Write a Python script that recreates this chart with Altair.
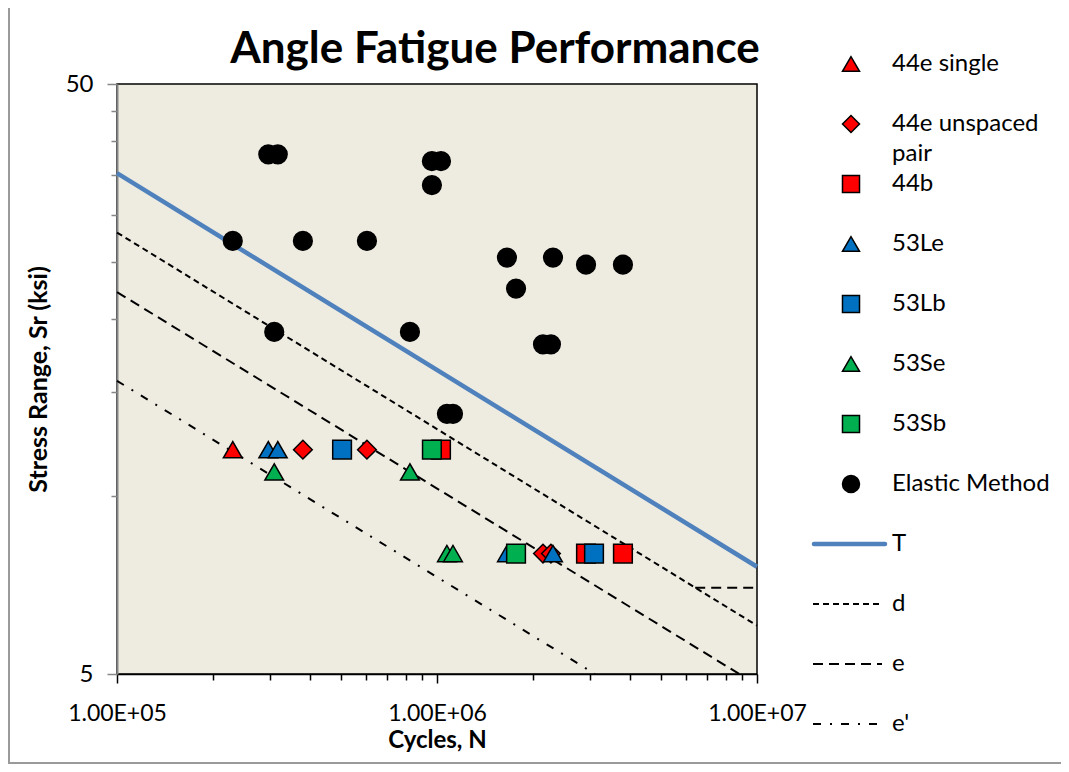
import altair as alt
import pandas as pd

# ---------------- data ----------------
chart_title = "Angle Fatigue Performance"
series_names = ["44e single", "44e unspaced pair", "44b", "53Le", "53Lb",
                "53Se", "53Sb", "Elastic Method"]

s44e_single_N = [230000]
s44e_single_S = [12]
s44e_pair_N = [381000, 604000, 2144000, 2270000]
s44e_pair_S = [12, 12, 8, 8]
s44b_N = [1029000, 2922000, 3811000]
s44b_S = [12, 8, 8]
s53Le_N = [297000, 318000, 1654000, 2304000]
s53Le_S = [12, 12, 8, 8]
s53Lb_N = [505000, 3095000]
s53Lb_S = [12, 8]
s53Se_N = [310000, 823000, 1074000, 1122000]
s53Se_S = [11, 11, 8, 8]
s53Sb_N = [964000, 1766000]
s53Sb_S = [12, 8]
elastic_N = [297000, 318000, 964000, 1029000, 964000, 230000, 381000, 604000,
             1654000, 2304000, 2922000, 3811000, 1766000, 310000, 823000,
             2144000, 2270000, 1074000, 1122000]
elastic_S = [38.0, 38.0, 37.0, 37.0, 33.7, 27.1, 27.1, 27.1,
             25.4, 25.4, 24.7, 24.7, 22.5, 19.0, 19.0,
             18.1, 18.1, 13.8, 13.8]

line_names = ["T", "d", "e", "e'"]
T_N = [1e5, 1e7]
T_S = [35.3, 7.6]
d_N = [1e5, 1e7]
d_S = [28.0, 6.04]
e_N = [1e5, 8.8e6]
e_S = [22.2, 5.0]
ep_N = [1e5, 3.12e6]
ep_S = [15.7, 5.0]
thr_N = [6.41e6, 1e7]
thr_S = [7.0, 7.0]

x_ticks = [100000, 200000, 300000, 400000, 500000, 600000, 700000, 800000, 900000,
           1000000, 2000000, 3000000, 4000000, 5000000, 6000000, 7000000, 8000000,
           9000000, 10000000]
y_ticks = [5, 10, 15, 20, 25, 30, 35, 40, 45, 50]

legend_line1 = ["44e single", "44e unspaced", "44b", "53Le", "53Lb", "53Se", "53Sb",
                "Elastic Method", "T", "d", "e", "e'"]
legend_line2 = ["", "pair", "", "", "", "", "", "", "", "", "", ""]

# ---------------- styles ----------------
FONT = "Lato"
series_colors = ["#FF0000", "#FF0000", "#FF0000", "#0070C0", "#0070C0",
                 "#00B050", "#00B050", "#000000"]
series_shapes = ["triangle-up", "diamond", "square", "triangle-up", "square",
                 "triangle-up", "square", "circle"]
dash_styles = [[6, 4], [10, 6], [8, 9, 2, 9]]

# ---------------- tables ----------------
pts_parts = [
    (series_names[0], s44e_single_N, s44e_single_S),
    (series_names[1], s44e_pair_N, s44e_pair_S),
    (series_names[2], s44b_N, s44b_S),
    (series_names[3], s53Le_N, s53Le_S),
    (series_names[4], s53Lb_N, s53Lb_S),
    (series_names[5], s53Se_N, s53Se_S),
    (series_names[6], s53Sb_N, s53Sb_S),
    (series_names[7], elastic_N, elastic_S),
]
pts = pd.DataFrame(
    [{"series": name, "N": n, "S": s} for name, ns, ss in pts_parts for n, s in zip(ns, ss)]
)

line_parts = [
    ("T", "T", T_N, T_S),
    ("d", "d", d_N, d_S),
    ("e", "e", e_N, e_S),
    ("e'", "e'", ep_N, ep_S),
    ("e", "thr", thr_N, thr_S),
]
lines = pd.DataFrame(
    [{"line": ln, "seg": seg, "N": n, "S": s}
     for ln, seg, ns, ss in line_parts for n, s in zip(ns, ss)]
)

leg_pts = pd.DataFrame({"series": series_names, "row": list(range(len(series_names)))})
leg_lines = pd.DataFrame({"line": line_names,
                          "row": [len(series_names) + i for i in range(len(line_names))]})
leg_text = pd.DataFrame({"t1": legend_line1, "t2": legend_line2,
                         "row": list(range(len(legend_line1)))})

# ---------------- encodings ----------------
x_enc = alt.X(
    "N:Q",
    scale=alt.Scale(type="log", domain=[1e5, 1e7], nice=False),
    axis=alt.Axis(
        values=x_ticks,
        labelExpr="datum.value == 100000 ? '1.00E+05' : datum.value == 1000000 ? '1.00E+06' : datum.value == 10000000 ? '1.00E+07' : ''",
        title="Cycles, N", grid=False, labelFlush=False, labelOverlap=False,
        tickSize={"condition": {"test": "datum.value == 100000 || datum.value == 1000000 || datum.value == 10000000", "value": 9}, "value": 6},
        tickColor="black", domainColor="black", domainWidth=1.5, tickWidth=1.5,
        labelPadding=19, labelFont=FONT, labelFontSize=23, labelColor="black",
        titleFont=FONT, titleFontSize=24, titleFontWeight="bold", titleColor="black",
        titlePadding=3,
    ),
)
y_enc = alt.Y(
    "S:Q",
    scale=alt.Scale(type="log", domain=[5, 50], nice=False),
    axis=alt.Axis(
        values=y_ticks,
        labelExpr="(datum.value == 5 || datum.value == 50) ? format(datum.value, 'd') : ''",
        title="Stress Range, Sr (ksi)", grid=False, labelFlush=False, labelOverlap=False,
        tickSize={"condition": {"test": "datum.value == 5 || datum.value == 50", "value": 10}, "value": 6},
        tickColor="#868686", domainColor="#868686", domainWidth=2, tickWidth=1.5,
        labelPadding=14, labelFont=FONT, labelFontSize=24, labelColor="black",
        titleFont=FONT, titleFontSize=25, titleFontWeight="bold", titleColor="black",
        titlePadding=14,
    ),
)
color_enc = alt.Color("series:N", scale=alt.Scale(domain=series_names, range=series_colors), legend=None)
shape_enc = alt.Shape("series:N", scale=alt.Scale(domain=series_names, range=series_shapes), legend=None)
dash_enc = alt.StrokeDash("line:N", scale=alt.Scale(domain=line_names[1:], range=dash_styles), legend=None)

# ---------------- main plot layers ----------------
t_line = alt.Chart(lines).transform_filter(alt.datum.line == "T").mark_line(
    color="#4F81BD", strokeWidth=4.5).encode(x=x_enc, y=y_enc, detail="seg:N")
dashed = alt.Chart(lines).transform_filter(alt.datum.line != "T").mark_line(
    color="black", strokeWidth=2).encode(x=x_enc, y=y_enc, detail="seg:N", strokeDash=dash_enc)
points = alt.Chart(pts).mark_point(
    filled=True, opacity=1, stroke="black", strokeWidth=1.5, size=350).encode(
    x=x_enc, y=y_enc, color=color_enc, shape=shape_enc)
main = alt.layer(t_line, dashed, points)

# ---------------- legend ----------------
leg_y = alt.Y("row:Q", scale=alt.Scale(domain=[0, 11], range=[-20, 640]), axis=None)
lp = alt.Chart(leg_pts).mark_point(
    filled=True, opacity=1, stroke="black", strokeWidth=1.5, size=290).encode(
    x=alt.value(734), y=leg_y, color=color_enc, shape=shape_enc)
lt = alt.Chart(leg_lines).transform_filter(alt.datum.line == "T").mark_rule(
    color="#4F81BD", strokeWidth=4.5, strokeCap="round").encode(
    x=alt.value(697), x2=alt.value(768), y=leg_y)
ld = alt.Chart(leg_lines).transform_filter(alt.datum.line != "T").mark_rule(
    color="black", strokeWidth=2).encode(
    x=alt.value(696), x2=alt.value(765), y=leg_y, strokeDash=dash_enc)
tx1 = alt.Chart(leg_text).mark_text(
    align="left", baseline="middle", font=FONT, fontSize=24, color="black").encode(
    x=alt.value(775), y=leg_y, text="t1:N")
tx2 = alt.Chart(leg_text).mark_text(
    align="left", baseline="middle", font=FONT, fontSize=24, color="black", dy=30).encode(
    x=alt.value(775), y=leg_y, text="t2:N")
legend = alt.layer(lp, lt, ld, tx1, tx2)

# ---------------- title and outer frame ----------------
frame_df = pd.DataFrame({"k": [0]})
title_mark = alt.Chart(frame_df).mark_text(
    align="center", baseline="alphabetic", font=FONT, fontSize=44, fontWeight="bold",
    color="black").encode(x=alt.value(378), y=alt.value(-21), text=alt.value(chart_title))
frame_l = alt.Chart(frame_df).mark_rule(color="#9a9a9a", strokeWidth=2).encode(
    x=alt.value(-108), y=alt.value(-76), y2=alt.value(680))
frame_b = alt.Chart(frame_df).mark_rule(color="#9a9a9a", strokeWidth=2).encode(
    x=alt.value(-109), x2=alt.value(944), y=alt.value(679))
frame = alt.layer(title_mark, frame_l, frame_b)

chart = alt.layer(main, legend, frame).resolve_scale(y="independent").properties(
    width=640, height=590,
    autosize=alt.AutoSizeParams(type="none"),
    padding={"left": 109, "top": 76, "right": 304, "bottom": 90},
    background="white",
).configure_view(stroke="black", strokeWidth=1.5, fill="#EEECE1")

chart.save("out.html", embed_options={"renderer": "svg", "actions": False})
